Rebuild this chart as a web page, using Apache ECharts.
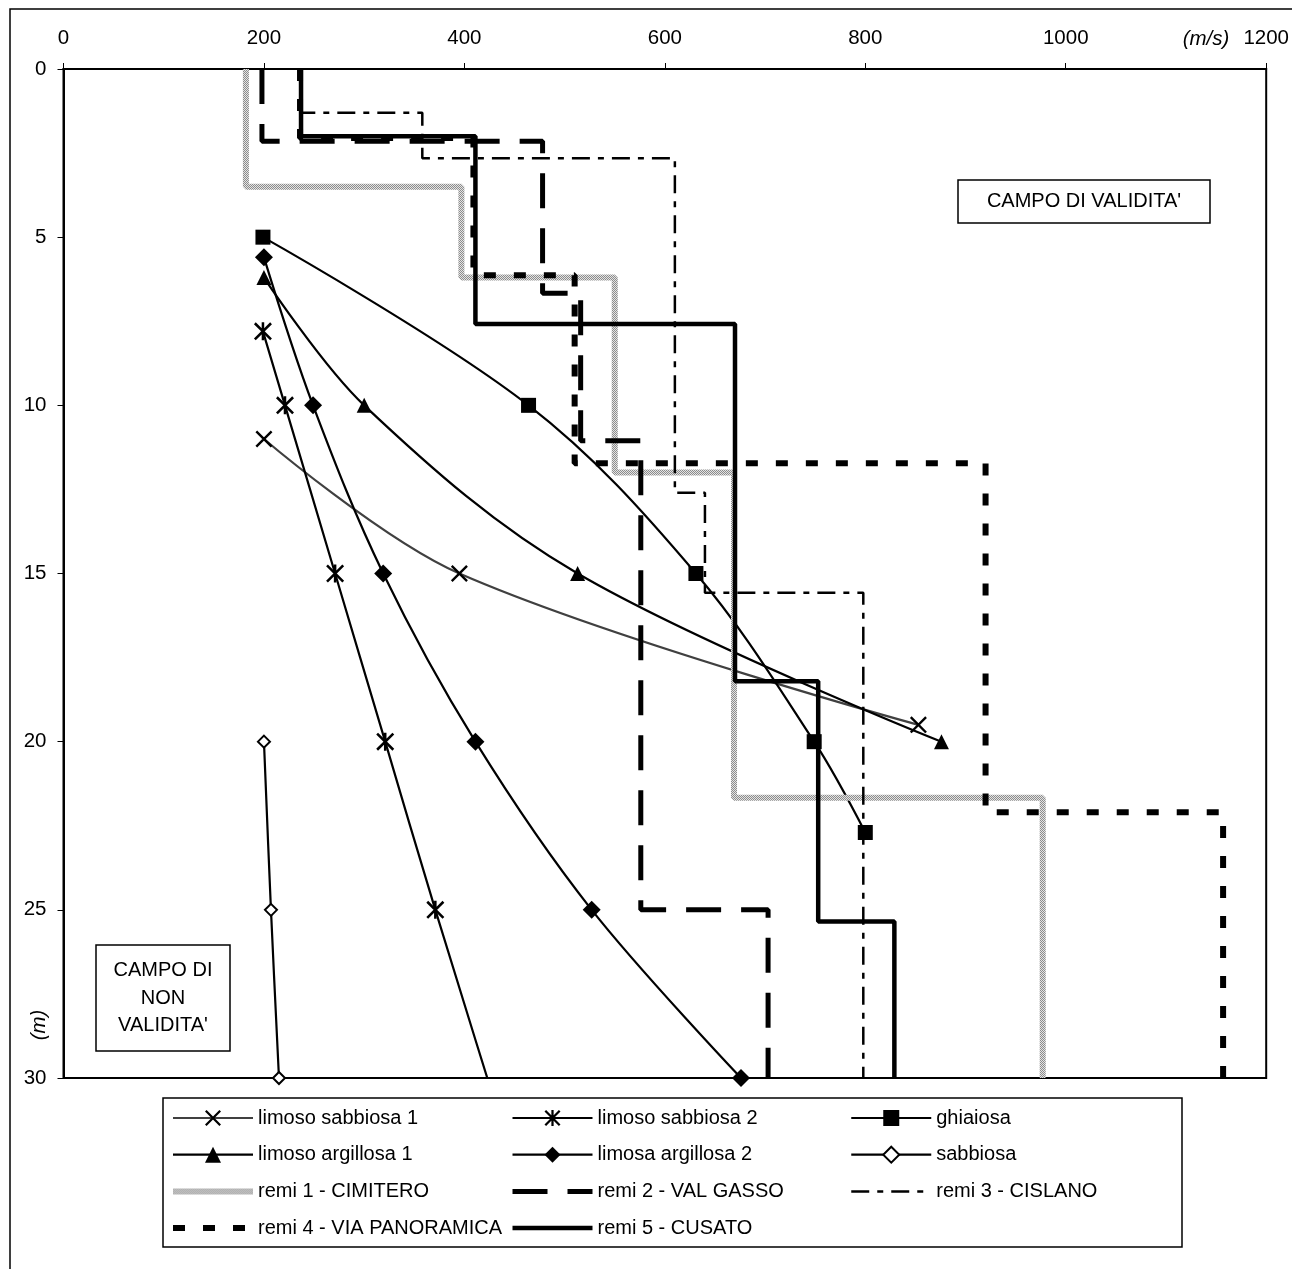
<!DOCTYPE html>
<html><head><meta charset="utf-8">
<script src="https://cdn.jsdelivr.net/npm/echarts@6/dist/echarts.min.js"></script>
<style>html,body{margin:0;padding:0;background:#fff}#c{width:1292px;height:1269px}</style>
</head><body><div id="c"></div>
<script>
const FONT = "'Liberation Sans', Arial, Helvetica, sans-serif";

// ---- soil reference curves: velocity (m/s) and depth (m) ----
const limosoSabbiosa1V = [200, 395, 853];
const limosoSabbiosa1D = [11, 15, 19.5];
const limosoSabbiosa2V = [199, 221, 271, 321, 371, 475];
const limosoSabbiosa2D = [7.8, 10, 15, 20, 25, 35];
const ghiaiosaV = [199, 464, 631, 749, 800];
const ghiaiosaD = [5, 10, 15, 20, 22.7];
const limosoArgillosa1V = [200, 300, 513, 876];
const limosoArgillosa1D = [6.2, 10, 15, 20];
const limosaArgillosa2V = [200, 249, 319, 411, 527, 676];
const limosaArgillosa2D = [5.6, 10, 15, 20, 25, 30];
const sabbiosaV = [200, 207, 215];
const sabbiosaD = [20, 25, 30];

// ---- ReMi profiles: layer velocities and layer boundaries (depth) ----
const remi1V = [182, 397, 550, 669, 977];
const remi1Z = [0, 3.5, 6.2, 12.0, 21.67, 30];
const remi2V = [198, 478, 516, 576, 703];
const remi2Z = [0, 2.15, 6.67, 11.05, 25, 30];
const remi3V = [237, 358, 610, 640, 798];
const remi3Z = [0, 1.3, 2.65, 12.6, 15.57, 30];
const remi4V = [236, 409, 510, 920, 1157];
const remi4Z = [0, 2.05, 6.13, 11.72, 22.1, 30];
const remi5V = [237, 411, 670, 753, 829];
const remi5Z = [0, 2.0, 7.58, 18.2, 25.35, 30];

const seriesNames = ['limoso sabbiosa 1','limoso sabbiosa 2','ghiaiosa','limoso argillosa 1','limosa argillosa 2','sabbiosa',
  'remi 1 - CIMITERO','remi 2 - VAL GASSO','remi 3 - CISLANO','remi 4 - VIA PANORAMICA','remi 5 - CUSATO'];

function pts(v, d) { return v.map((x, i) => [x, d[i]]); }
function steps(v, z) { const o = []; v.forEach((x, i) => { o.push([x, z[i]]); o.push([x, z[i + 1]]); }); return o; }

// stippled grey texture for remi 1
function stipple() {
  const c = document.createElement('canvas'); c.width = 2; c.height = 2;
  const g = c.getContext('2d');
  g.fillStyle = '#e4e4e4'; g.fillRect(0, 0, 2, 2);
  g.fillStyle = '#8c8c8c'; g.fillRect(0, 0, 1, 1); g.fillRect(1, 1, 1, 1);
  return { image: c, repeat: 'repeat' };
}

const X_PATH = 'path://M0,1L1,0L10,9L9,10ZM9,0L10,1L1,10L0,9Z';
const AST_PATH = 'path://M0,1L1,0L10,9L9,10ZM9,0L10,1L1,10L0,9ZM4.3,0L5.7,0L5.7,10L4.3,10Z';

function curve(name, data, symbol, size, lineColor, itemStyle) {
  return { name, type: 'line', data, smooth: 0.35, symbol, symbolSize: size, showSymbol: true,
    lineStyle: { color: lineColor, width: 2.2 }, itemStyle, emphasis: { disabled: true }, clip: true, z: 2 };
}
function remi(name, data, style) {
  return { name, type: 'line', data, symbol: 'none', showSymbol: false, lineStyle: style,
    itemStyle: { color: '#000' }, emphasis: { disabled: true }, clip: true, z: 3 };
}

const series = [
  curve(seriesNames[0], pts(limosoSabbiosa1V, limosoSabbiosa1D), X_PATH, 17, '#404040', { color: '#000', borderWidth: 0 }),
  curve(seriesNames[1], pts(limosoSabbiosa2V, limosoSabbiosa2D), AST_PATH, 18, '#000', { color: '#000', borderWidth: 0 }),
  curve(seriesNames[2], pts(ghiaiosaV, ghiaiosaD), 'rect', 15, '#000', { color: '#000', borderWidth: 0 }),
  curve(seriesNames[3], pts(limosoArgillosa1V, limosoArgillosa1D), 'triangle', 15, '#000', { color: '#000', borderWidth: 0 }),
  curve(seriesNames[4], pts(limosaArgillosa2V, limosaArgillosa2D), 'diamond', 18, '#000', { color: '#000', borderWidth: 0 }),
  curve(seriesNames[5], pts(sabbiosaV, sabbiosaD), 'emptyDiamond', 12, '#000', { color: '#000', borderColor: '#000', borderWidth: 2 }),
  remi(seriesNames[6], steps(remi1V, remi1Z), { color: stipple(), width: 6, type: 'solid' }),
  remi(seriesNames[7], steps(remi2V, remi2Z), { color: '#000', width: 5, type: [35, 20] }),
  remi(seriesNames[8], steps(remi3V, remi3Z), { color: '#000', width: 2.5, type: [18, 8, 6, 8] }),
  remi(seriesNames[9], steps(remi4V, remi4Z), { color: '#000', width: 6, type: [12, 18] }),
  remi(seriesNames[10], steps(remi5V, remi5Z), { color: '#000', width: 4.5, type: 'solid' })
];

function legendCol(left, names) {
  return {
    orient: 'vertical', left, top: 1108, padding: 0, itemWidth: 80, itemHeight: 20, itemGap: 16.7,
    selectedMode: false, lineStyle: { width: 'inherit' },
    textStyle: { fontSize: 20, fontFamily: FONT, color: '#000' },
    data: names.map(n => n.indexOf('remi') === 0 ? { name: n, itemStyle: { opacity: 0 } } : { name: n, itemStyle: { color: '#000' } })
  };
}

const plain = v => String(v);

const chart = echarts.init(document.getElementById('c'), null, { renderer: 'canvas' });
chart.setOption({
  animation: false,
  backgroundColor: '#fff',
  textStyle: { fontFamily: FONT },
  grid: { left: 63.5, right: 24, top: 69, bottom: 191, show: true, borderColor: '#000', borderWidth: 2 },
  xAxis: {
    type: 'value', position: 'top', min: 0, max: 1200, interval: 200,
    axisLine: { show: true, lineStyle: { color: '#000', width: 2 } },
    axisTick: { show: true, length: 6, lineStyle: { color: '#000', width: 1 } },
    axisLabel: { color: '#000', fontSize: 20.5, fontFamily: FONT, margin: 20, showMinLabel: true, showMaxLabel: true, formatter: plain },
    splitLine: { show: false }
  },
  yAxis: {
    type: 'value', inverse: true, min: 0, max: 30, interval: 5,
    axisLine: { show: true, lineStyle: { color: '#000', width: 2 } },
    axisTick: { show: true, length: 6, lineStyle: { color: '#000', width: 1 } },
    axisLabel: { color: '#000', fontSize: 20.5, fontFamily: FONT, margin: 17, formatter: plain },
    splitLine: { show: false }
  },
  legend: [
    legendCol(170, [seriesNames[0], seriesNames[3], seriesNames[6], seriesNames[9]]),
    legendCol(510, [seriesNames[1], seriesNames[4], seriesNames[7], seriesNames[10]]),
    legendCol(850, [seriesNames[2], seriesNames[5], seriesNames[8]])
  ],
  graphic: [
    { type: 'rect', shape: { x: 10, y: 9, width: 1400, height: 1400 }, style: { fill: 'none', stroke: '#000', lineWidth: 1.5 }, silent: true, z: 0 },
    { type: 'rect', shape: { x: 163, y: 1098, width: 1019, height: 149 }, style: { fill: 'none', stroke: '#000', lineWidth: 1.5 }, silent: true },
    { type: 'rect', shape: { x: 958, y: 180, width: 252, height: 43 }, style: { fill: '#fff', stroke: '#000', lineWidth: 1.5 }, silent: true, z: 10 },
    { type: 'text', x: 1084, y: 201.5, style: { text: "CAMPO DI VALIDITA'", align: 'center', verticalAlign: 'middle', fontSize: 20, fontFamily: FONT, fill: '#000' }, silent: true, z: 11 },
    { type: 'rect', shape: { x: 96, y: 945, width: 134, height: 106 }, style: { fill: '#fff', stroke: '#000', lineWidth: 1.5 }, silent: true, z: 10 },
    { type: 'text', x: 163, y: 998, style: { text: "CAMPO DI\nNON\nVALIDITA'", align: 'center', verticalAlign: 'middle', lineHeight: 27.3, fontSize: 20, fontFamily: FONT, fill: '#000' }, silent: true, z: 11 },
    { type: 'text', x: 1206, y: 39, style: { text: '(m/s)', align: 'center', verticalAlign: 'middle', fontSize: 20.5, fontStyle: 'italic', fontFamily: FONT, fill: '#000' }, silent: true },
    { type: 'text', x: 39, y: 1025, rotation: Math.PI / 2, style: { text: '(m)', align: 'center', verticalAlign: 'middle', fontSize: 20.5, fontStyle: 'italic', fontFamily: FONT, fill: '#000' }, silent: true }
  ],
  series
});
</script></body></html>
